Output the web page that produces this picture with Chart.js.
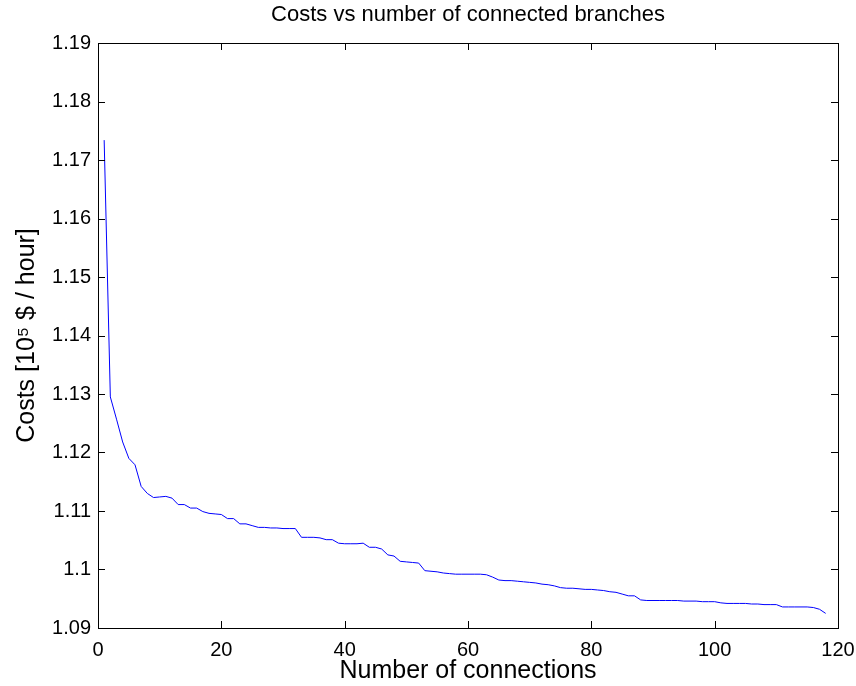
<!DOCTYPE html>
<html>
<head>
<meta charset="utf-8">
<script src="https://cdn.jsdelivr.net/npm/chart.js@4.4.1/dist/chart.umd.min.js"></script>
<style>
html,body{margin:0;padding:0;background:#fff;}
#wrap{width:856px;height:686px;}
</style>
</head>
<body>
<div id="wrap"><canvas id="c" width="856" height="686"></canvas></div>
<script>
const connections = [];
for (let i = 1; i <= 118; i++) connections.push(i);
const costs = [
1.1734,1.1295,1.1257,1.1218,1.1190,1.1179,1.1142,1.1130,1.1123,1.1124,
1.1125,1.1122,1.1111,1.1111,1.1105,1.1105,1.1099,1.1096,1.1095,1.1094,
1.1087,1.1087,1.1078,1.1078,1.1075,1.1072,1.1072,1.1071,1.1071,1.1070,
1.1070,1.1070,1.1055,1.1055,1.1055,1.1054,1.1051,1.1051,1.1045,1.1044,
1.1044,1.1044,1.1045,1.1038,1.1038,1.1035,1.1025,1.1023,1.1014,1.1013,
1.1012,1.1011,1.0998,1.0997,1.0996,1.0994,1.0993,1.0992,1.0992,1.0992,
1.0992,1.0992,1.0991,1.0987,1.0982,1.0981,1.0981,1.0980,1.0979,1.0978,
1.0977,1.0975,1.0974,1.0972,1.0969,1.0968,1.0968,1.0967,1.0966,1.0966,
1.0965,1.0964,1.0962,1.0961,1.0958,1.0955,1.0955,1.0948,1.0947,1.0947,
1.0947,1.0947,1.0947,1.0947,1.0946,1.0946,1.0946,1.0945,1.0945,1.0945,
1.0943,1.0942,1.0942,1.0942,1.0942,1.0941,1.0941,1.0940,1.0940,1.0940,
1.0936,1.0936,1.0936,1.0936,1.0936,1.0935,1.0932,1.0925
];
const xTicks = [0,20,40,60,80,100,120];
const yTicks = [1.09,1.10,1.11,1.12,1.13,1.14,1.15,1.16,1.17,1.18,1.19];
const chartTitle = 'Costs vs number of connected branches';
const xTitle = 'Number of connections';
const yTitle = 'Costs [10⁵ $ / hour]';

const FONT = "'Liberation Sans', Arial, Helvetica, sans-serif";

const boxTicks = {
  id: 'boxTicks',
  afterDraw(chart) {
    const {ctx, chartArea: a, scales: {x, y}} = chart;
    const L = 7;
    ctx.save();
    ctx.strokeStyle = '#000';
    ctx.lineWidth = 1;
    ctx.beginPath();
    xTicks.forEach(v => {
      const px = Math.round(x.getPixelForValue(v)) + 0.5;
      ctx.moveTo(px, a.bottom); ctx.lineTo(px, a.bottom - L);
      ctx.moveTo(px, a.top); ctx.lineTo(px, a.top + L);
    });
    yTicks.forEach(v => {
      const py = Math.round(y.getPixelForValue(v)) + 0.5;
      ctx.moveTo(a.left, py); ctx.lineTo(a.left + L, py);
      ctx.moveTo(a.right, py); ctx.lineTo(a.right - L, py);
    });
    ctx.stroke();
    ctx.strokeRect(Math.round(a.left) + 0.5, Math.round(a.top) + 0.5,
                   Math.round(a.right - a.left), Math.round(a.bottom - a.top));
    ctx.fillStyle = '#000';
    ctx.font = '22px ' + FONT;
    ctx.textAlign = 'center';
    ctx.textBaseline = 'middle';
    ctx.fillText(chartTitle, (a.left + a.right) / 2, 15);
    ctx.restore();
  }
};

new Chart(document.getElementById('c'), {
  type: 'line',
  data: {
    datasets: [{
      data: connections.map((n, i) => ({x: n, y: costs[i]})),
      borderColor: '#0000ff',
      borderWidth: 1,
      pointRadius: 0,
      tension: 0,
      fill: false
    }]
  },
  options: {
    responsive: false,
    animation: false,
    devicePixelRatio: 1,
    layout: {padding: {left: 0, right: 18, top: 43, bottom: 0}},
    plugins: {
      legend: {display: false},
      tooltip: {enabled: false},
      title: {display: false}
    },
    scales: {
      x: {
        type: 'linear',
        min: 0, max: 120,
        afterBuildTicks(s) { s.ticks = xTicks.map(v => ({value: v})); },
        afterFit(s) { s.height = 58; s.paddingLeft = 0; s.paddingRight = 0; },
        grid: {display: false, drawTicks: false},
        border: {display: false},
        ticks: {color: '#000', font: {family: FONT, size: 20}, padding: 10, maxRotation: 0,
                callback: v => String(v)},
        title: {display: true, text: xTitle, color: '#000',
                font: {family: FONT, size: 25}, padding: {top: 0, bottom: 0}}
      },
      y: {
        type: 'linear',
        min: 1.09, max: 1.19,
        afterBuildTicks(s) { s.ticks = yTicks.map(v => ({value: v})); },
        afterFit(s) { s.width = 98; s.paddingTop = 0; s.paddingBottom = 0; },
        grid: {display: false, drawTicks: false},
        border: {display: false},
        ticks: {color: '#000', font: {family: FONT, size: 20}, padding: 7,
                callback: v => String(Number(v.toFixed(2)))},
        title: {display: true, text: yTitle, color: '#000',
                font: {family: FONT, size: 25}, padding: {top: 12, bottom: 0}}
      }
    }
  },
  plugins: [boxTicks]
});
</script>
</body>
</html>
